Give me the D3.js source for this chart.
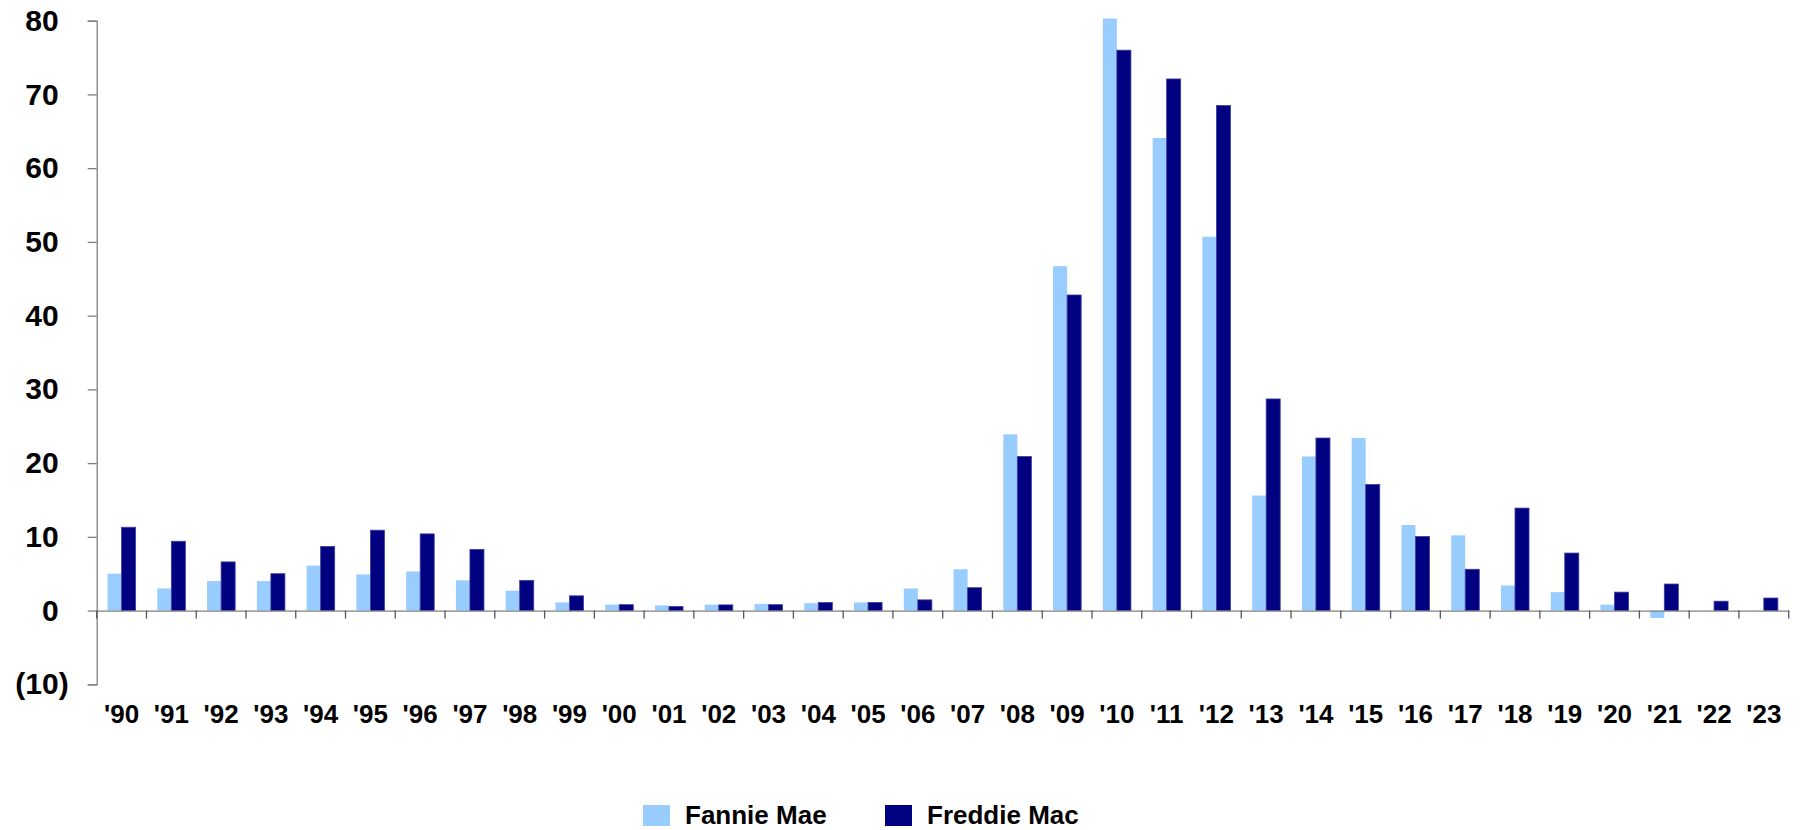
<!DOCTYPE html>
<html>
<head>
<meta charset="utf-8">
<script src="https://cdn.jsdelivr.net/npm/d3@7"></script>
<style>
  html, body { margin: 0; padding: 0; background: #ffffff; }
  svg { display: block; font-family: "Liberation Sans", Arial, sans-serif; font-weight: bold; }
</style>
</head>
<body>
<svg id="chart" width="1800" height="830"></svg>
<script>
// Annual values by year, two series
const years = ["'90","'91","'92","'93","'94","'95","'96","'97","'98","'99",
               "'00","'01","'02","'03","'04","'05","'06","'07","'08","'09",
               "'10","'11","'12","'13","'14","'15","'16","'17","'18","'19",
               "'20","'21","'22","'23"];
const fannieMae = [5.0, 3.0, 4.0, 4.0, 6.1, 4.9, 5.3, 4.1, 2.7, 1.1,
                   0.8, 0.7, 0.8, 0.9, 1.0, 1.1, 3.0, 5.6, 23.9, 46.7,
                   80.3, 64.1, 50.7, 15.6, 20.9, 23.4, 11.6, 10.2, 3.4, 2.5,
                   0.8, -1.0, 0, 0];
const freddieMac = [11.3, 9.4, 6.6, 5.0, 8.7, 10.9, 10.4, 8.3, 4.1, 2.0,
                    0.8, 0.55, 0.77, 0.8, 1.1, 1.1, 1.45, 3.1, 20.9, 42.8,
                    76.0, 72.1, 68.5, 28.7, 23.4, 17.1, 10.05, 5.6, 13.9, 7.8,
                    2.5, 3.6, 1.27, 1.7];
const yTicks = [-10, 0, 10, 20, 30, 40, 50, 60, 70, 80];
const seriesNames = ["Fannie Mae", "Freddie Mac"];
const seriesColors = ["#99ccff", "#000080"];

const svg = d3.select("#chart");

const x = d3.scaleBand().domain(years).range([96.7, 1788.7]).padding(0);
const y = d3.scaleLinear().domain([-10, 80]).range([684.3, 20.7]);
const barW = x.bandwidth() * 0.282;
const axisColor = "#808080";

// Bars: each year shows the two series side by side, centred in its band
const series = [fannieMae, freddieMac];
series.forEach((vals, si) => {
  svg.append("g")
    .selectAll("rect")
    .data(vals.map((v, i) => ({ year: years[i], v })))
    .join("rect")
    .attr("x", d => x(d.year) + x.bandwidth() / 2 + (si === 0 ? -barW : 0))
    .attr("width", barW)
    .attr("y", d => y(Math.max(0, d.v)))
    .attr("height", d => Math.abs(y(d.v) - y(0)))
    .attr("fill", seriesColors[si])
    .attr("stroke", si === 1 ? "#3d3d9e" : "none")
    .attr("stroke-width", 0.8);
});

// Y axis, negatives in parentheses; positives leave room for the ")"
const labelFont = 30;
const yAxis = svg.append("g")
  .attr("transform", `translate(${x.range()[0]},0)`)
  .call(d3.axisLeft(y)
    .tickValues(yTicks)
    .tickSize(9)
    .tickPadding(19)
    .tickFormat(d => d < 0 ? `(${-d})` : String(d)));
yAxis.select(".domain").attr("stroke", axisColor).attr("stroke-width", 1.3);
yAxis.selectAll(".tick line").attr("stroke", axisColor).attr("stroke-width", 1.3);
yAxis.selectAll(".tick text")
  .attr("font-size", labelFont)
  .attr("font-weight", "bold")
  .attr("fill", "#000")
  .attr("font-family", "'Liberation Sans', Arial, sans-serif")
  .attr("dx", d => d < 0 ? 0 : -labelFont * 0.333);

// X axis line at zero with category labels
const xAxis = svg.append("g")
  .attr("transform", `translate(0,${y(0)})`)
  .call(d3.axisBottom(x).tickSize(0).tickPadding(94));
xAxis.select(".domain").attr("stroke", axisColor).attr("stroke-width", 1.3);
xAxis.selectAll(".tick text")
  .attr("font-size", 26)
  .attr("font-weight", "bold")
  .attr("fill", "#000")
  .attr("font-family", "'Liberation Sans', Arial, sans-serif");

// Category boundary ticks below the zero line
const bounds = years.map(d => x(d)).concat([x.range()[1]]);
svg.append("g")
  .selectAll("line")
  .data(bounds)
  .join("line")
  .attr("x1", d => d).attr("x2", d => d)
  .attr("y1", y(0)).attr("y2", y(0) + 8)
  .attr("stroke", "#555")
  .attr("stroke-width", 1.3);

// Legend
const legendX = [643, 885];
const legend = svg.append("g");
seriesNames.forEach((name, i) => {
  legend.append("rect")
    .attr("x", legendX[i]).attr("y", 805)
    .attr("width", 27).attr("height", 21)
    .attr("fill", seriesColors[i]);
  legend.append("text")
    .attr("x", legendX[i] + 42).attr("y", 824)
    .attr("font-size", 26)
    .attr("font-weight", "bold")
    .attr("fill", "#000")
    .text(name);
});
</script>
</body>
</html>
